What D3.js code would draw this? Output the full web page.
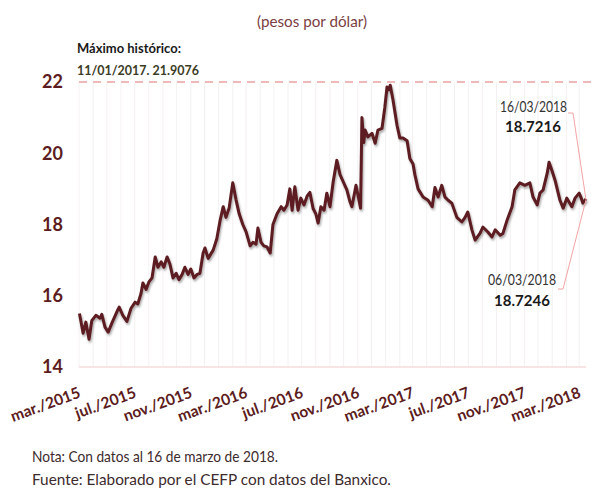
<!DOCTYPE html>
<html lang="es">
<head>
<meta charset="UTF-8">
<title>Tipo de cambio</title>
<script src="https://d3js.org/d3.v7.min.js"></script>
<style>
  body { margin: 0; background: #fff; }
  svg { display: block; font-family: Lato, "Open Sans", sans-serif; }
  .tick line { display: none; }
</style>
</head>
<body>
<svg width="595" height="490"></svg>
<script>
// fechas y tipo de cambio
const dates = [
  "2015-03-02","2015-03-05","2015-03-10","2015-03-16","2015-03-23","2015-03-29","2015-04-07","2015-04-16",
  "2015-04-20","2015-04-27","2015-05-04","2015-05-12","2015-05-23","2015-05-28","2015-06-05","2015-06-14",
  "2015-06-23","2015-07-02","2015-07-08","2015-07-15","2015-07-19","2015-07-26","2015-08-01","2015-08-08",
  "2015-08-15","2015-08-21","2015-08-28","2015-09-03","2015-09-10","2015-09-16","2015-09-23","2015-09-30",
  "2015-10-06","2015-10-13","2015-10-19","2015-10-26","2015-11-01","2015-11-08","2015-11-15","2015-11-21",
  "2015-11-28","2015-12-02","2015-12-09","2015-12-20","2015-12-28","2016-01-04","2016-01-11","2016-01-17",
  "2016-01-24","2016-02-01","2016-02-08","2016-02-15","2016-02-23","2016-03-01","2016-03-10","2016-03-16",
  "2016-03-23","2016-03-27","2016-04-03","2016-04-09","2016-04-16","2016-04-23","2016-04-29","2016-05-08",
  "2016-05-17","2016-05-23","2016-05-30","2016-06-05","2016-06-10","2016-06-16","2016-06-23","2016-06-29",
  "2016-07-06","2016-07-13","2016-07-19","2016-07-26","2016-08-01","2016-08-06","2016-08-12","2016-08-19",
  "2016-08-25","2016-09-01","2016-09-08","2016-09-16","2016-09-23","2016-09-30","2016-10-08","2016-10-15",
  "2016-10-19","2016-10-28","2016-11-07","2016-11-10","2016-11-14","2016-11-17","2016-11-23","2016-12-02",
  "2016-12-09","2016-12-15","2016-12-24","2016-12-30","2017-01-04","2017-01-08","2017-01-11","2017-01-17",
  "2017-01-26","2017-02-01","2017-02-08","2017-02-17","2017-02-23","2017-03-02","2017-03-06","2017-03-13",
  "2017-03-24","2017-04-04","2017-04-13","2017-04-19","2017-04-26","2017-05-04","2017-05-11","2017-05-18",
  "2017-05-26","2017-06-06","2017-06-17","2017-06-24","2017-06-30","2017-07-09","2017-07-16","2017-07-27",
  "2017-08-02","2017-08-13","2017-08-22","2017-08-29","2017-09-09","2017-09-15","2017-09-24","2017-10-05",
  "2017-10-11","2017-10-22","2017-11-02","2017-11-13","2017-11-20","2017-11-29","2017-12-05","2017-12-12",
  "2017-12-21","2017-12-25","2017-12-31","2018-01-07","2018-01-18","2018-01-25","2018-02-02","2018-02-13",
  "2018-02-20","2018-03-01","2018-03-06","2018-03-09","2018-03-16"
];
const values = [
  15.5, 15.3, 14.95, 15.26, 14.78, 15.3, 15.45, 15.37,
  15.48, 15.12, 14.98, 15.23, 15.55, 15.68, 15.45, 15.28,
  15.65, 15.82, 15.77, 16.07, 16.36, 16.18, 16.38, 16.5,
  17.09, 16.8, 16.95, 16.8, 17.09, 16.9, 16.5, 16.63,
  16.45, 16.6, 16.8, 16.6, 16.75, 16.5, 16.6, 16.63,
  17.2, 17.34, 17.05, 17.28, 17.6, 18.1, 18.5, 18.2,
  18.46, 19.17, 18.7, 18.3, 18.0, 17.8, 17.4, 17.5,
  17.45, 17.9, 17.5, 17.4, 17.37, 17.2, 18.0, 18.3,
  18.5, 18.4, 18.55, 19.0, 18.4, 19.06, 18.4, 18.74,
  18.55, 18.8, 18.9, 18.45, 18.3, 18.04, 18.5, 18.4,
  18.88, 18.5, 19.2, 19.8, 19.4, 19.2, 18.97, 18.63,
  18.5, 19.1, 18.46, 21.0, 20.3, 20.65, 20.46, 20.56,
  20.28, 20.65, 20.7, 21.27, 21.86, 21.78, 21.9076, 21.5,
  20.78, 20.43, 20.43, 20.35, 19.85, 19.7, 19.4, 19.0,
  18.77, 18.68, 18.5, 19.04, 18.77, 19.1, 18.77, 18.68,
  18.6, 18.2, 18.07, 18.2, 18.35, 17.85, 17.56, 17.76,
  17.93, 17.79, 17.65, 17.85, 17.7, 17.75, 18.12, 18.5,
  18.97, 19.17, 19.1, 19.17, 18.77, 18.55, 18.88, 18.97,
  19.44, 19.75, 19.53, 19.25, 18.68, 18.46, 18.74, 18.5,
  18.74, 18.88, 18.7246, 18.6, 18.7216
];
const tickDates = ["2015-03-01","2015-07-01","2015-11-01","2016-03-01","2016-07-01","2016-11-01",
                   "2017-03-01","2017-07-01","2017-11-01","2018-03-01"];
const tickLabels = ["mar./2015","jul./2015","nov./2015","mar./2016","jul./2016","nov./2016",
                    "mar./2017","jul./2017","nov./2017","mar./2018"];
const yTicks = [14, 16, 18, 20, 22];
const maxValue = 21.9076;

const parse = d3.timeParse("%Y-%m-%d");
const data = dates.map((d, i) => ({ date: parse(d), value: values[i] }));

const svg = d3.select("svg");
const maroon = "#5c1c20";

const x = d3.scaleTime()
    .domain([parse("2015-03-01"), parse("2018-03-16")])
    .range([79, 586]);
const y = d3.scaleLinear().domain([14, 22]).range([367, 82]);

// sombra de la línea
const defs = svg.append("defs");
defs.append("filter").attr("id", "shadow")
    .attr("x", "-5%").attr("y", "-5%").attr("width", "110%").attr("height", "120%")
  .append("feDropShadow")
    .attr("dx", 1).attr("dy", 2).attr("stdDeviation", 1.3)
    .attr("flood-color", "#000").attr("flood-opacity", 0.35);

// líneas verticales mensuales
svg.append("g")
  .selectAll("line")
  .data(d3.timeMonth.range(parse("2015-03-01"), parse("2018-03-02")))
  .join("line")
    .attr("x1", d => x(d)).attr("x2", d => x(d))
    .attr("y1", y(22)).attr("y2", y(14))
    .attr("stroke", "#f4f0f0").attr("stroke-width", 1);

// línea base
svg.append("line")
    .attr("x1", 79).attr("x2", 586)
    .attr("y1", y(14)).attr("y2", y(14))
    .attr("stroke", "#f3c9c9").attr("stroke-width", 1.2);

// máximo histórico
svg.append("line")
    .attr("x1", 79).attr("x2", 592)
    .attr("y1", y(22)).attr("y2", y(22))
    .attr("stroke", "#f0b9b9").attr("stroke-width", 2)
    .attr("stroke-dasharray", "8,6");

// eje y
const yAxis = svg.append("g")
    .attr("transform", "translate(65,0)")
    .call(d3.axisLeft(y).tickValues(yTicks).tickSize(0).tickPadding(2));
yAxis.select(".domain").remove();
yAxis.selectAll("text")
    .attr("fill", maroon)
    .style("font-family", "Lato, sans-serif")
    .style("font-size", "18px")
    .style("font-weight", "bold");

// eje x
const xAxis = svg.append("g")
    .attr("transform", `translate(0,${y(14)})`)
    .call(d3.axisBottom(x)
      .tickValues(tickDates.map(parse))
      .tickFormat((d, i) => tickLabels[i])
      .tickSize(0));
xAxis.select(".domain").remove();
xAxis.selectAll("text")
    .attr("y", 0).attr("dy", 0)
    .attr("text-anchor", "end")
    .attr("transform", "translate(2,30) rotate(-20)")
    .attr("fill", maroon)
    .style("font-family", "Lato, sans-serif")
    .style("font-size", "15.5px")
    .style("font-weight", "bold");

// serie
svg.append("path")
    .datum(data)
    .attr("fill", "none")
    .attr("stroke", maroon)
    .attr("stroke-width", 3)
    .attr("stroke-linejoin", "round")
    .attr("filter", "url(#shadow)")
    .attr("d", d3.line().x(d => x(d.date)).y(d => y(d.value)));

// textos
svg.append("text")
    .attr("x", 257).attr("y", 27)
    .attr("textLength", 110).attr("lengthAdjust", "spacingAndGlyphs")
    .attr("fill", "#7a3e42").style("font-size", "15px")
    .text("(pesos por dólar)");

svg.append("text")
    .attr("x", 77).attr("y", 53)
    .attr("textLength", 104).attr("lengthAdjust", "spacingAndGlyphs")
    .attr("fill", "#1a1a1a").style("font-size", "14px").style("font-weight", "bold")
    .text("Máximo histórico:");

svg.append("text")
    .attr("x", 77).attr("y", 75)
    .attr("textLength", 122).attr("lengthAdjust", "spacingAndGlyphs")
    .attr("fill", "#3c3c26").style("font-size", "14px").style("font-weight", "bold")
    .text("11/01/2017. " + maxValue.toFixed(4));

// anotaciones del último dato
const last = data[data.length - 1];
const prev = data[data.length - 3];

svg.append("text")
    .attr("x", 500).attr("y", 112)
    .attr("textLength", 67).attr("lengthAdjust", "spacingAndGlyphs")
    .attr("fill", "#333").style("font-size", "15px")
    .text("16/03/2018");
svg.append("text")
    .attr("x", 533).attr("y", 132).attr("text-anchor", "middle")
    .attr("fill", "#1a1a1a").style("font-size", "15px").style("font-weight", "bold")
    .text(last.value.toFixed(4));

svg.append("text")
    .attr("x", 488).attr("y", 285)
    .attr("textLength", 68).attr("lengthAdjust", "spacingAndGlyphs")
    .attr("fill", "#333").style("font-size", "15px")
    .text("06/03/2018");
svg.append("text")
    .attr("x", 522).attr("y", 306).attr("text-anchor", "middle")
    .attr("fill", "#1a1a1a").style("font-size", "15px").style("font-weight", "bold")
    .text(prev.value.toFixed(4));

svg.append("path")
    .attr("fill", "none").attr("stroke", "#f2a5a5").attr("stroke-width", 1)
    .attr("d", `M568,113 L573,113 L${x(last.date)},${y(last.value) + 1}`);
svg.append("path")
    .attr("fill", "none").attr("stroke", "#f2a5a5").attr("stroke-width", 1)
    .attr("d", `M${x(last.date)},${y(last.value) + 1} L563,289 L558,289`);

// notas
svg.append("text")
    .attr("x", 32).attr("y", 462)
    .attr("textLength", 246).attr("lengthAdjust", "spacingAndGlyphs")
    .attr("fill", "#3d2b2d").style("font-size", "15px")
    .text("Nota: Con datos al 16 de marzo de 2018.");
svg.append("text")
    .attr("x", 32).attr("y", 485)
    .attr("textLength", 359).attr("lengthAdjust", "spacingAndGlyphs")
    .attr("fill", "#3d2b2d").style("font-size", "15px")
    .text("Fuente: Elaborado por el CEFP con datos del Banxico.");
</script>
</body>
</html>
